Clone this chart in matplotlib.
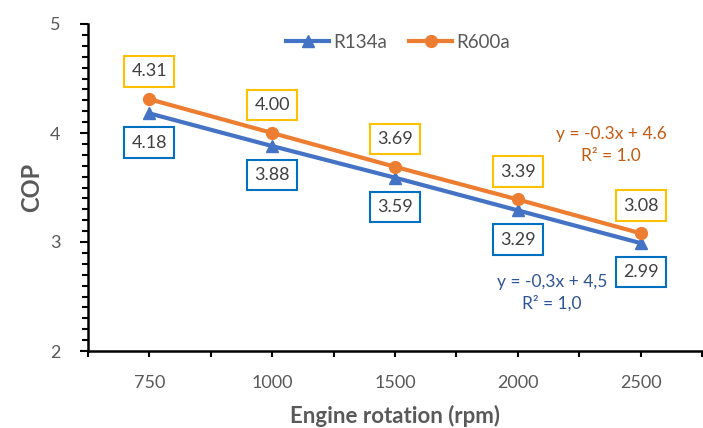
import numpy as np
import matplotlib.pyplot as plt
from matplotlib.ticker import MultipleLocator

plt.rcParams['font.family'] = ['Lato', 'DejaVu Sans']

rpm = ['750', '1000', '1500', '2000', '2500']
cop_r134a = [4.18, 3.88, 3.59, 3.29, 2.99]
cop_r600a = [4.31, 4.00, 3.69, 3.39, 3.08]

blue = '#4472C4'
orange = '#ED7D31'
grey = '#595959'

fig = plt.figure(figsize=(7.03, 4.28), dpi=100)
ax = fig.add_axes([88 / 703, 77 / 428, (702 - 88) / 703, 327 / 428])

x = np.arange(1, len(rpm) + 1)
ax.plot(x, cop_r134a, color=blue, lw=3, marker='^', ms=9, label='R134a')
ax.plot(x, cop_r600a, color=orange, lw=3, marker='o', ms=8.5, label='R600a')

# data labels
for xi, v in zip(x, cop_r600a):
    ax.annotate(f'{v:.2f}', (xi, v), xytext=(0, 20), textcoords='offset points',
                ha='center', va='center', fontsize=13, color='#404040',
                bbox=dict(boxstyle='square,pad=0.4', fc='white', ec='#FFC000', lw=1.5))
for xi, v in zip(x, cop_r134a):
    ax.annotate(f'{v:.2f}', (xi, v), xytext=(0, -21), textcoords='offset points',
                ha='center', va='center', fontsize=13, color='#404040',
                bbox=dict(boxstyle='square,pad=0.4', fc='white', ec='#0070C0', lw=1.5))

# trendline equations
ax.text(4.76, 3.89, 'y = -0.3x + 4.6\nR² = 1.0', color='#C55A11', fontsize=12.5,
        ha='center', va='center', linespacing=1.4)
ax.text(4.28, 2.53, 'y = -0,3x + 4,5\nR² = 1,0', color='#2F5597', fontsize=12.5,
        ha='center', va='center', linespacing=1.4)

ax.set_xlim(0.5, (702 - 88) / 125 + 0.5)
ax.set_ylim(2, 5)
ax.set_xticks(x)
ax.set_xticklabels(rpm)
ax.set_xticks(np.arange(0.5, 5.6, 1.0), minor=True)
ax.yaxis.set_major_locator(MultipleLocator(1))
ax.yaxis.set_minor_locator(MultipleLocator(0.1))

for s in ['top', 'right']:
    ax.spines[s].set_visible(False)
for s in ['left', 'bottom']:
    ax.spines[s].set_linewidth(1.8)
    ax.spines[s].set_color('black')

ax.tick_params(axis='both', which='both', direction='out', width=1.5, colors='black',
               labelcolor=grey, labelsize=13)
ax.tick_params(axis='y', which='major', length=6, pad=14)
ax.tick_params(axis='y', which='minor', length=4)
ax.tick_params(axis='x', which='both', length=4, pad=13)

ax.set_ylabel('COP', fontsize=17, fontweight='bold', color=grey, labelpad=5)
ax.set_xlabel('Engine rotation (rpm)', fontsize=16, fontweight='bold', color=grey, labelpad=10)

ax.legend(loc='center', bbox_to_anchor=(398 / 703, 1 - 42 / 428), bbox_transform=fig.transFigure,
          ncol=2, frameon=False, fontsize=13.5, labelcolor=grey, handlelength=2.3,
          handletextpad=0.2, columnspacing=1.2)

fig.savefig('out.png', dpi=100)
